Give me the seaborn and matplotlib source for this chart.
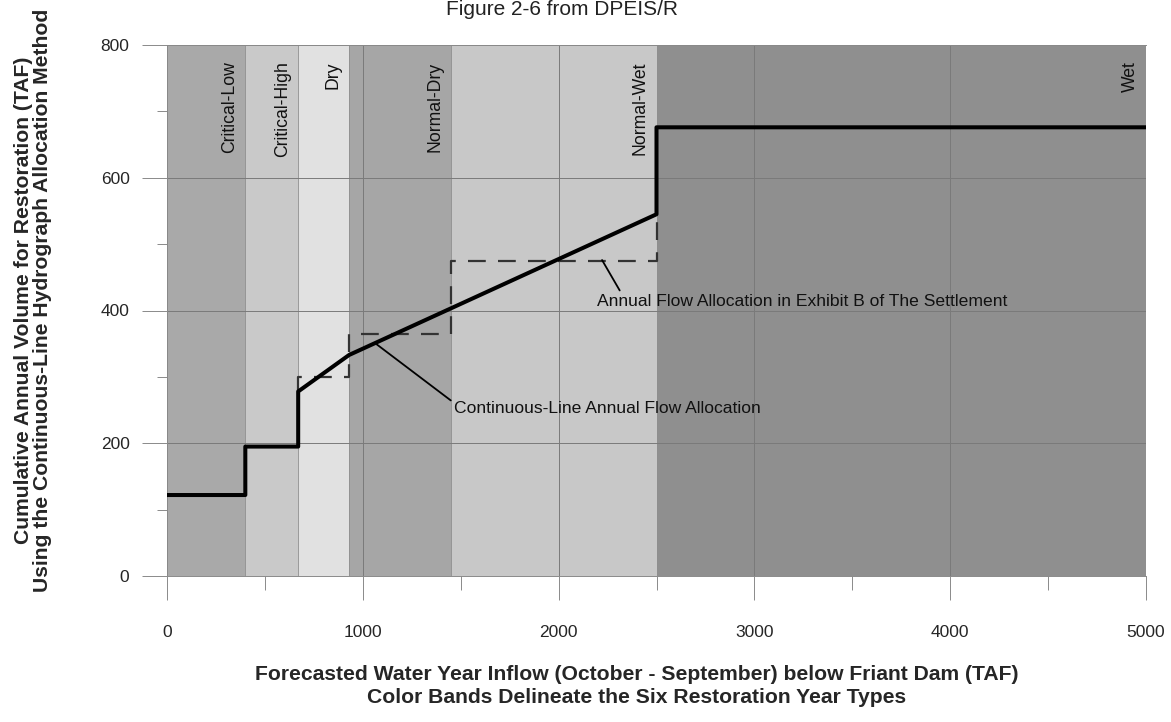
import numpy as np
import pandas as pd
import matplotlib
matplotlib.use("Agg")
import matplotlib.pyplot as plt
from matplotlib.ticker import MultipleLocator
import seaborn as sns

## Restoration year types (colour bands)
band_names = ['Critical-Low', 'Critical-High', 'Dry', 'Normal-Dry', 'Normal-Wet', 'Wet']
band_edges = [0, 400, 670, 930, 1450, 2500, 5000]
band_colors = ['#a9a9a9', '#c9c9c9', '#e1e1e1', '#a6a6a6', '#c8c8c8', '#8f8f8f']

## Continuous-line annual flow allocation
cont_x = [0, 400, 400, 670, 670, 930, 2500, 2500, 5000]
cont_y = [122, 122, 195, 195, 278, 333, 545, 676, 676]

## Exhibit B annual flow allocation (dashed steps)
exb_x = [670, 670, 930, 930, 1450, 1450, 2500, 2500]
exb_y = [278, 300, 300, 365, 365, 475, 475, 545]

sns.set_theme(style='white')
plt.rcParams['font.family'] = ['Liberation Sans', 'DejaVu Sans']

fig = plt.figure(figsize=(11.71, 7.22), dpi=100)
ax = fig.add_axes([167/1171, 1 - 576/722, (1146 - 167)/1171, (576 - 45)/722])

## colour bands + labels
for i, name in enumerate(band_names):
    ax.axvspan(band_edges[i], band_edges[i+1], color=band_colors[i], ec='#8a8a8a',
               lw=0.5, zorder=0.2)
    ax.text(band_edges[i+1] - 82, 775, name, rotation=90, ha='center', va='top',
            fontsize=12.7, color='#111111')

## lines
cont = pd.DataFrame({'x': cont_x, 'y': cont_y})
exb = pd.DataFrame({'x': exb_x, 'y': exb_y})
sns.lineplot(data=exb, x='x', y='y', sort=False, estimator=None, ax=ax,
             color='#333333', lw=1.6, zorder=3)
ax.lines[-1].set_dashes([8, 5.5])
sns.lineplot(data=cont, x='x', y='y', sort=False, estimator=None, ax=ax,
             color='black', lw=2.9, zorder=4)

## annotations
ax.annotate('Continuous-Line Annual Flow Allocation', xy=(1062, 351), xytext=(1466, 253),
            fontsize=12.6, ha='left', va='center', color='#111111',
            arrowprops=dict(arrowstyle='-', color='black', lw=1.3, shrinkA=0, shrinkB=0,
                            relpos=(-0.01, 1.0)))
ax.annotate('Annual Flow Allocation in Exhibit B of The Settlement', xy=(2222, 476),
            xytext=(2196, 414), fontsize=12.6, ha='left', va='center', color='#111111',
            arrowprops=dict(arrowstyle='-', color='black', lw=1.3, shrinkA=0, shrinkB=0,
                            relpos=(0.06, 1.0)))

## axes
ax.set_xlim(0, 5000)
ax.set_ylim(0, 800)
ax.xaxis.set_major_locator(MultipleLocator(1000))
ax.xaxis.set_minor_locator(MultipleLocator(500))
ax.yaxis.set_major_locator(MultipleLocator(200))
ax.yaxis.set_minor_locator(MultipleLocator(100))
ax.grid(True, which='major', color='#7a7a7a', lw=0.7)
ax.set_axisbelow(True)
ax.tick_params(axis='x', which='major', direction='out', length=17, width=0.7,
               color='#8a8a8a', pad=18, labelsize=12.5, bottom=True)
ax.tick_params(axis='x', which='minor', direction='out', length=10, width=0.7,
               color='#8a8a8a', bottom=True)
ax.tick_params(axis='y', which='major', direction='out', length=18, width=0.7,
               color='#8a8a8a', pad=9, labelsize=12.5, left=True)
ax.tick_params(axis='y', which='minor', direction='out', length=7, width=0.7,
               color='#8a8a8a', left=True)
for side in ['left', 'top', 'bottom']:
    ax.spines[side].set_color('#8a8a8a')
    ax.spines[side].set_linewidth(0.7)
ax.spines['right'].set_visible(False)

ax.set_xlabel('Forecasted Water Year Inflow (October - September) below Friant Dam (TAF)\n'
              'Color Bands Delineate the Six Restoration Year Types',
              fontsize=15.2, fontweight='bold', linespacing=1.25)
ax.xaxis.set_label_coords(0.48, -0.168)
ax.set_ylabel('Cumulative Annual Volume for Restoration (TAF)\n'
              'Using the Continuous-Line Hydrograph Allocation Method',
              fontsize=15.2, fontweight='bold', linespacing=1.0)
ax.yaxis.set_label_coords(-0.1175, 0.52)

fig.text(0.48, 1 - 15/722, 'Figure 2-6 from DPEIS/R', ha='center', va='baseline',
         fontsize=15, color='#222222')

fig.savefig('out.png', dpi=100, facecolor='white')
